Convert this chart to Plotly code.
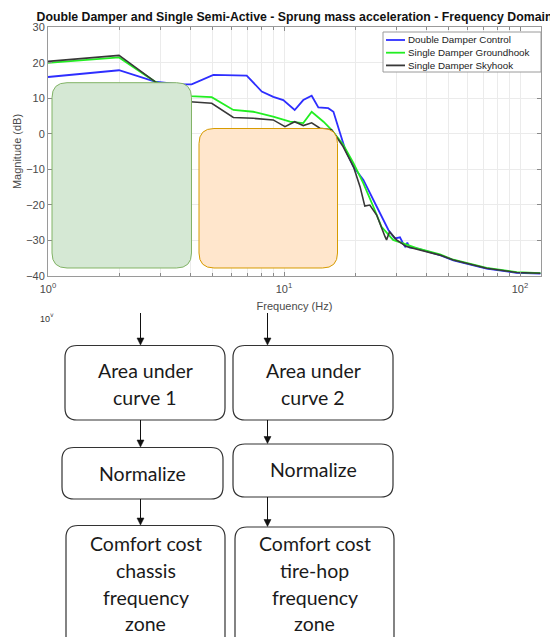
import plotly.graph_objects as go

# ---- frequency response data (Hz, dB) ----
freq_double = [1.0, 2.0, 2.84, 3.63, 4.06, 5.02, 6.95, 8.05, 9.01, 9.93, 11.1, 12.07, 13.1,
               13.98, 15.4, 16.2, 17.3, 18.1, 19.7, 21.7, 24.7, 27.7, 29.5, 31.0, 32.0, 32.6,
               33.3, 34.0, 36.5, 45.8, 52.2, 72.2, 96.8, 122.0]
mag_double = [16.0, 17.9, 14.7, 13.9, 13.9, 16.6, 16.4, 11.9, 10.4, 9.5, 6.7, 9.5, 10.7,
              7.4, 7.2, 6.2, 0.1, -4.1, -9.3, -13.0, -20.5, -27.1, -29.5, -29.2, -31.0, -31.8,
              -30.7, -32.0, -32.3, -34.2, -35.7, -38.0, -39.2, -39.4]

freq_ground = [1.0, 2.0, 2.84, 4.0, 4.94, 6.1, 7.41, 9.0, 10.6, 12.07, 13.1, 14.7, 15.9,
               17.8, 19.7, 21.7, 23.9, 25.9, 29.0, 36.5, 45.8, 52.2, 72.2, 96.8, 122.0]
mag_ground = [20.0, 21.5, 14.7, 10.6, 10.3, 6.7, 6.2, 4.8, 3.4, 3.0, 6.2, 3.4, 1.1,
              -3.0, -8.3, -14.0, -20.5, -26.2, -29.9, -32.2, -34.0, -35.5, -37.8, -39.0, -39.3]

freq_sky = [1.0, 2.0, 2.84, 4.0, 4.94, 6.1, 7.41, 9.0, 10.1, 11.1, 12.07, 13.1, 14.2, 15.9,
            17.8, 19.7, 21.0, 22.0, 23.1, 24.7, 26.8, 27.2, 28.0, 30.0, 33.0, 37.7, 45.8,
            52.2, 72.2, 96.8, 122.0]
mag_sky = [20.4, 22.1, 14.7, 9.0, 8.6, 4.6, 4.35, 3.9, 2.0, 3.4, 2.3, 3.1, 1.55, 1.1,
           -3.6, -9.3, -14.9, -20.4, -20.1, -22.9, -29.0, -29.9, -27.6, -29.9, -31.8, -32.7, -34.2,
           -35.6, -37.9, -39.1, -39.3]

series_names = ["Double Damper Control", "Single Damper Groundhook", "Single Damper Skyhook"]
series_colors = ["#2e2eff", "#22ee22", "#383838"]

# ---- axis ticks ----
x_major_vals = [1, 10, 100]
x_major_text = ["10<sup>0</sup>", "10<sup>1</sup>", "10<sup>2</sup>"]
x_minor_vals = [2, 3, 4, 5, 6, 7, 8, 9, 20, 30, 40, 50, 60, 70, 80, 90]
y_tickvals = [-40, -30, -20, -10, 0, 10, 20, 30]

# ---- flowchart text ----
box_area_1 = ["Area under", "curve 1"]
box_area_2 = ["Area under", "curve 2"]
box_norm = "Normalize"
box_cost_1 = ["Comfort cost", "chassis", "frequency", "zone"]
box_cost_2 = ["Comfort cost", "tire-hop", "frequency", "zone"]

W, H = 550, 637


def fx(x):
    return x / W


def fy(y):
    return 1 - y / H


def to_path(cmds):
    out = []
    for item in cmds:
        coords = " ".join(f"{fx(p[0]):.5f},{fy(p[1]):.5f}" for p in item[1:])
        out.append(f"{item[0]}{coords}")
    return " ".join(out) + " Z"


def rounded_rect(x0, y0, x1, y1, r):
    return to_path([
        ("M", (x0 + r, y0)), ("L", (x1 - r, y0)), ("Q", (x1, y0), (x1, y0 + r)),
        ("L", (x1, y1 - r)), ("Q", (x1, y1), (x1 - r, y1)), ("L", (x0 + r, y1)),
        ("Q", (x0, y1), (x0, y1 - r)), ("L", (x0, y0 + r)), ("Q", (x0, y0), (x0 + r, y0)),
    ])


fig = go.Figure()
for fr, mg, name, col, lw in [(freq_double, mag_double, series_names[0], series_colors[0], 1.8),
                              (freq_ground, mag_ground, series_names[1], series_colors[1], 1.8),
                              (freq_sky, mag_sky, series_names[2], series_colors[2], 1.6)]:
    fig.add_trace(go.Scatter(x=fr, y=mg, mode="lines", name=name,
                             line=dict(color=col, width=lw), showlegend=False))

shapes = []
annotations = []

# highlighted frequency zones
shapes.append(dict(type="path", xref="paper", yref="paper", layer="above",
                   path=rounded_rect(52, 82.7, 191.5, 268, 15),
                   fillcolor="#d5e8d4", line=dict(color="#82b366", width=1)))
shapes.append(dict(type="path", xref="paper", yref="paper", layer="above",
                   path=rounded_rect(199, 128.5, 337.5, 268, 15),
                   fillcolor="#ffe6cc", line=dict(color="#d79b00", width=1)))

# legend box with line samples
legend_font = dict(family="Liberation Sans, Arial, sans-serif", size=9.8, color="#222")
shapes.append(dict(type="rect", xref="paper", yref="paper", layer="above",
                   x0=fx(383), x1=fx(541), y0=fy(72), y1=fy(32),
                   fillcolor="white", line=dict(color="#9a9a9a", width=1)))
for i, (name, col) in enumerate(zip(series_names, series_colors)):
    ly = 40 + i * 12.7
    shapes.append(dict(type="line", xref="paper", yref="paper", layer="above",
                       x0=fx(386), x1=fx(405), y0=fy(ly), y1=fy(ly),
                       line=dict(color=col, width=1.8)))
    annotations.append(dict(text=name, x=fx(406), y=fy(ly), xref="paper", yref="paper",
                            xanchor="left", yanchor="middle", showarrow=False, font=legend_font))

# flowchart boxes
box_style = dict(type="path", xref="paper", yref="paper", layer="above",
                 fillcolor="white", line=dict(color="#333333", width=1.2))
for (x0, y0, x1, y1) in [(65, 345.5, 225, 420), (233, 345.5, 393, 420),
                         (62, 447.5, 223, 499), (233, 444, 393, 497),
                         (66, 525.5, 225, 650), (235, 527, 394, 650)]:
    shapes.append(dict(box_style, path=rounded_rect(x0, y0, x1, y1, 12)))

text_font = dict(family="Lato, Open Sans, sans-serif", size=19.5, color="#1a1a1a")


def add_text(lines, cx, ys):
    for t, y in zip(lines, ys):
        annotations.append(dict(text=t, x=fx(cx), y=fy(y), xref="paper", yref="paper",
                                xanchor="center", yanchor="middle", showarrow=False,
                                font=text_font))


add_text(box_area_1, 145, [370, 397])
add_text(box_area_2, 313, [370, 397])
add_text([box_norm], 142.5, [473])
add_text([box_norm], 313, [470])
add_text(box_cost_1, 145.5, [543, 570, 597, 623])
add_text(box_cost_2, 314.5, [543, 570, 597, 623])

# connecting arrows (shaft + filled head)
for (x, y0, y1) in [(140.5, 313, 345), (267.5, 313, 345), (140.5, 420, 447),
                    (267.5, 420, 443.5), (140.5, 499, 525), (267.5, 497, 526.5)]:
    shapes.append(dict(type="line", xref="paper", yref="paper", layer="above",
                       x0=fx(x), x1=fx(x), y0=fy(y0), y1=fy(y1 - 5),
                       line=dict(color="#111", width=1)))
    shapes.append(dict(type="path", xref="paper", yref="paper", layer="above",
                       path=to_path([("M", (x - 3.5, y1 - 7)), ("L", (x + 3.5, y1 - 7)),
                                     ("L", (x, y1))]),
                       fillcolor="#111", line=dict(color="#111", width=0.5)))

# leftover axis label fragment
annotations.append(dict(text="10<sup>˅</sup>", x=fx(47), y=fy(318), xref="paper", yref="paper",
                        xanchor="center", yanchor="middle", showarrow=False,
                        font=dict(family="Liberation Sans, Arial", size=9, color="#333")))

axis_font = dict(family="Liberation Sans, Arial, sans-serif", size=11, color="#4a4a4a")

fig.update_layout(
    width=W, height=H,
    margin=dict(l=0, r=0, t=0, b=0, autoexpand=False),
    paper_bgcolor="white", plot_bgcolor="white",
    title=dict(text="<b>Double Damper and Single Semi-Active - Sprung mass acceleration - Frequency Domain</b>",
               x=fx(294.5), xanchor="center", xref="paper", y=fy(17), yanchor="middle",
               font=dict(family="Liberation Sans, Arial, sans-serif", size=12.3, color="#111")),
    xaxis=dict(type="log", range=[0, 2.089], domain=[fx(48), fx(541)], automargin=False,
               tickvals=x_major_vals, ticktext=x_major_text, tickfont=axis_font,
               showgrid=True, gridcolor="#ebebeb", gridwidth=1,
               ticks="inside", ticklen=4, tickcolor="#8a8a8a",
               minor=dict(tickvals=x_minor_vals, showgrid=True, gridcolor="#ebebeb",
                          ticks="inside", ticklen=3, tickcolor="#8a8a8a"),
               showline=True, linecolor="#9a9a9a", linewidth=1, mirror="ticks",
               zeroline=False, ticklabelstandoff=3,
               title=dict(text="Frequency (Hz)", font=axis_font, standoff=8)),
    yaxis=dict(range=[-40, 30], domain=[fy(275.7), fy(27.3)], tickvals=y_tickvals,
               automargin=False,
               tickfont=axis_font, showgrid=True, gridcolor="#ebebeb", gridwidth=1,
               ticks="inside", ticklen=4, tickcolor="#8a8a8a",
               showline=True, linecolor="#9a9a9a", linewidth=1, mirror="ticks",
               zeroline=False,
               title=dict(text="Magnitude (dB)", font=axis_font, standoff=2)),
    shapes=shapes,
    annotations=annotations,
    showlegend=False,
)

fig.write_html("out.html")
